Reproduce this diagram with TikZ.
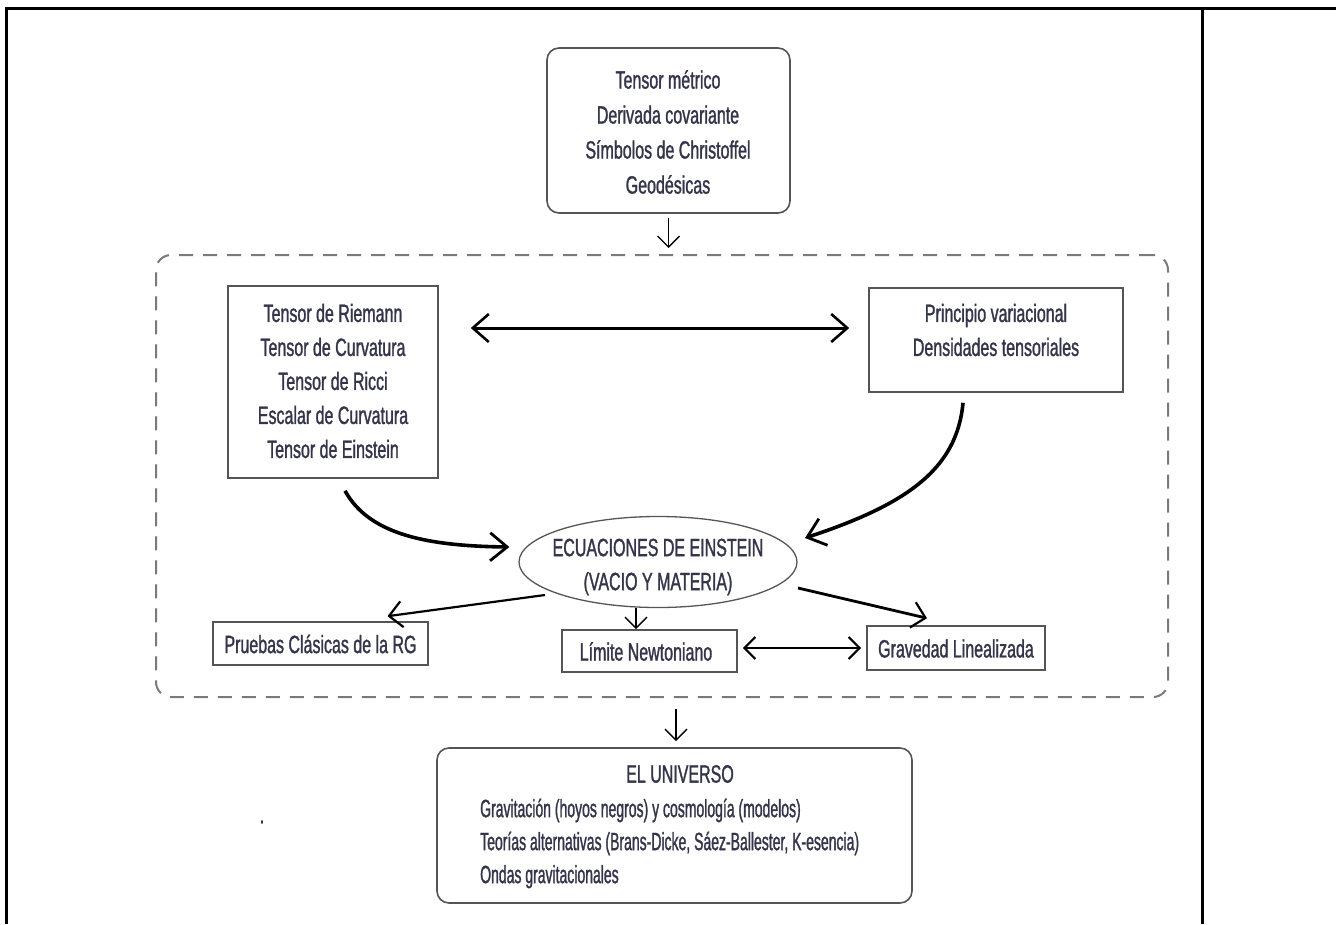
\documentclass[tikz,border=0pt]{standalone}
\usepackage{fontspec}
\setmainfont{Liberation Sans}[FakeStretch=0.64,FakeBold=1.2]
\newfontfamily\narrowfont{Liberation Sans}[FakeStretch=0.56,FakeBold=1.2]
\usetikzlibrary{arrows.meta,shapes.geometric}
\definecolor{txtc}{HTML}{34344A}
\definecolor{bordc}{HTML}{555555}
\definecolor{dashc}{HTML}{7A7A7A}
\begin{document}
\begin{tikzpicture}[x=1pt,y=-1pt,
  box/.style={draw=bordc,line width=1.6pt,inner sep=0pt},
  rbox/.style={box,rounded corners=12pt},
  lab/.style={text=txtc,font=\fontsize{25}{34}\selectfont,align=center,inner sep=0pt},
  thinarr/.style={line width=1.4pt,-{Straight Barb[length=11pt,width=22pt,line width=1.4pt]}},
  midarr/.style={line width=2.2pt,-{Straight Barb[length=13pt,width=26pt,line width=2.2pt]}},
  thickarr/.style={line width=3.6pt,-{Straight Barb[length=17pt,width=28pt,line width=2.8pt]}},
  dblarr/.style={line width=3pt,{Straight Barb[length=16pt,width=28pt,line width=2.6pt]}-{Straight Barb[length=16pt,width=28pt,line width=2.6pt]}},
  dblarrs/.style={line width=2.4pt,{Straight Barb[length=11pt,width=22pt,line width=2.2pt]}-{Straight Barb[length=11pt,width=22pt,line width=2.2pt]}}
]
\useasboundingbox (0,0) rectangle (1336,924);
% outer frame
\draw[line width=3pt] (6,924) -- (6,8) -- (1336,8);
\draw[line width=3pt] (1202,8) -- (1202,924);

% dashed container
\node[draw=dashc,line width=2pt,dash pattern=on 14pt off 10pt,rounded corners=15pt,
      minimum width=1012pt,minimum height=442pt,inner sep=0pt] (D) at (662,476) {};

% top box
\node[rbox,minimum width=243pt,minimum height=165pt] (T) at (668.5,130.5) {};
\node[lab,font=\fontsize{25}{35}\selectfont] (Tt) at (668,132) {Tensor métrico\\Derivada covariante\\Símbolos de Christoffel\\Geodésicas};

% left box
\node[box,minimum width=210pt,minimum height=192pt] (L) at (333,382) {};
\node[lab] (Lt) at (333,381) {Tensor de Riemann\\Tensor de Curvatura\\Tensor de Ricci\\Escalar de Curvatura\\Tensor de Einstein};

% right box
\node[box,minimum width=254pt,minimum height=104pt] (R) at (996,340) {};
\node[lab] (Rt) at (996,330) {Principio variacional\\Densidades tensoriales};

% ellipse
\node[ellipse,draw=bordc,line width=1.3pt,minimum width=278pt,minimum height=91pt,inner sep=0pt] (E) at (658,562) {};
\node[lab] (Et) at (658,567) {ECUACIONES DE EINSTEIN\\(VACIO Y MATERIA)};

% lower boxes
\node[box,minimum width=215pt,minimum height=43pt] (P) at (320.5,643.5) {};
\node[lab] (Pt) at (320.5,644) {Pruebas Clásicas de la RG};
\node[box,minimum width=175pt,minimum height=42pt] (N) at (649.5,651) {};
\node[lab] (Nt) at (646,651.5) {Límite Newtoniano};
\node[box,minimum width=178pt,minimum height=44pt] (G) at (956,648) {};
\node[lab] (Gt) at (956,648.5) {Gravedad Linealizada};

% universe box
\node[rbox,minimum width=475pt,minimum height=155pt] (U) at (674.5,825.5) {};
\node[lab] (Ut) at (680,774) {EL UNIVERSO};
\node[lab,anchor=west,align=left,font=\narrowfont\fontsize{25}{33}\selectfont] (Ul) at (480,843.5)
  {Gravitación (hoyos negros) y cosmología (modelos)\\Teorías alternativas (Brans-Dicke, Sáez-Ballester, K-esencia)\\Ondas gravitacionales};

\node[lab] (dot) at (262,822) {.};

% connectors
\draw[thinarr,shorten <=4pt,shorten >=6pt] (T.south) -- (T.south |- D.north);
\draw[thinarr,shorten <=11pt,shorten >=6pt] (D.south -| U.north) ++(1.5,0) coordinate (ds) (ds) -- (ds |- U.north);
\draw[dblarr] ([xshift=32pt,yshift=54pt]L.east) -- ([xshift=-19pt,yshift=12pt]R.west);
\draw[thickarr] ([xshift=12pt,yshift=-12pt]L.south) .. controls (368,532) and (420,546) .. ([xshift=-9pt,yshift=15pt]E.west);
\draw[thickarr] ([xshift=-33pt,yshift=-10pt]R.south) .. controls (957,470) and (905,505) .. ([xshift=147pt,yshift=24pt]E.center);
\draw[midarr] ([xshift=-113pt,yshift=-33pt]E.center) -- ([xshift=67pt,yshift=5pt]P.north);
\draw[thinarr,line width=1.8pt] ([xshift=-22pt]E.south) -- ([xshift=-22pt]E.south |- N.north);
\draw[midarr,line width=2.8pt] ([xshift=140pt,yshift=-26pt]E.center) -- ([xshift=-29pt,yshift=7pt]G.north);
\draw[dblarrs,shorten <=5pt,shorten >=5pt] (G.west -| N.east) -- (G.west);
\end{tikzpicture}
\end{document}
